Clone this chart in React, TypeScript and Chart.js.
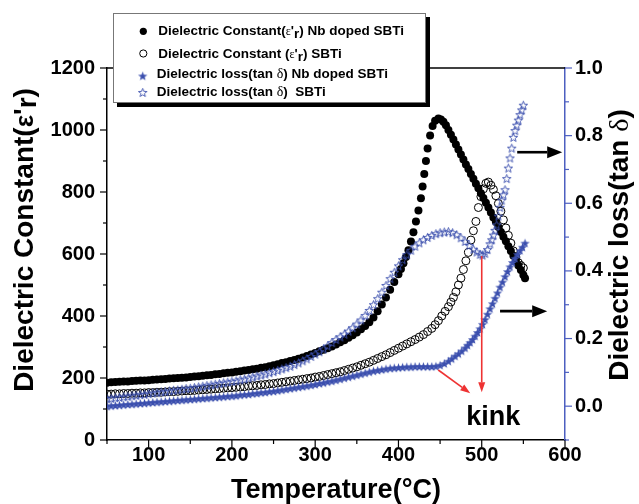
import React, { useEffect, useRef } from 'react';
import { Chart, registerables } from 'chart.js';

Chart.register(...registerables);

// ---- data: [temperature °C, value] ----
const tempTicks = [100, 200, 300, 400, 500, 600];
const dielectricTicks = [0, 200, 400, 600, 800, 1000, 1200];
const lossTicks = [0, 0.2, 0.4, 0.6, 0.8, 1.0];

// Dielectric constant, Nb doped SBTi (left axis)
const dcNb: [number, number][] = [
  [50,185],[55,186],[60,187],[65,188],[70,189],[75,189],[80,190],[85,191],[90,192],[95,192],
  [100,193],[105,194],[110,195],[115,196],[120,197],[125,198],[130,199],[135,200],[140,201],[145,202],
  [150,203],[155,205],[160,206],[165,207],[170,209],[175,210],[180,212],[185,213],[190,215],[195,217],
  [200,218],[205,220],[210,222],[215,224],[220,226],[225,228],[230,230],[235,233],[240,235],[245,238],
  [250,241],[255,244],[260,248],[265,251],[270,255],[275,258],[280,262],[285,266],[290,271],[295,276],
  [300,281],[305,286],[310,291],[315,296],[320,302],[325,308],[330,315],[335,322],[340,330],[345,338],
  [350,347],[355,357],[360,368],[365,380],[370,395],[375,415],[380,437],[385,460],[390,485],[395,510],
  [400,535],[403,552],[406,570],[409,590],[412,612],[415,640],[418,670],[421,705],[424,740],[427,780],
  [429,818],[431,858],[433,900],[435,940],[438,982],[441,1013],[444,1030],[448,1037],[451,1034],[454,1027],
  [457,1015],[460,1000],[463,985],[466,969],[469,953],[472,937],[475,921],[478,905],[481,889],[484,874],
  [487,858],[490,843],[493,827],[496,812],[499,796],[502,781],[505,765],[508,750],[511,734],[514,718],
  [517,703],[520,687],[523,671],[526,656],[529,641],[532,625],[535,610],[538,594],[541,579],[544,563],
  [547,548],[550,532],[552,522],
];

// Dielectric constant, SBTi (left axis)
const dcSBTi: [number, number][] = [
  [50,148],[55,148],[60,149],[65,149],[70,150],[75,150],[80,151],[85,151],[90,152],[95,152],
  [100,153],[105,153],[110,154],[115,154],[120,155],[125,156],[130,156],[135,157],[140,158],[145,159],
  [150,159],[155,160],[160,161],[165,162],[170,163],[175,164],[180,165],[185,166],[190,167],[195,168],
  [200,169],[205,170],[210,171],[215,172],[220,174],[225,175],[230,176],[235,178],[240,179],[245,181],
  [250,182],[255,184],[260,186],[265,188],[270,190],[275,192],[280,194],[285,196],[290,198],[295,200],
  [300,203],[305,205],[310,208],[315,211],[320,214],[325,217],[330,220],[335,224],[340,228],[345,232],
  [350,236],[355,241],[360,246],[365,251],[370,257],[375,263],[380,269],[385,275],[390,282],[395,289],
  [400,296],[405,303],[410,310],[415,317],[420,324],[425,332],[430,340],[435,350],[440,360],[444,372],
  [448,385],[452,400],[456,415],[460,430],[463,445],[466,460],[469,478],[472,500],[475,522],[478,550],
  [481,578],[484,605],[487,645],[490,675],[493,705],[496,750],[499,785],[502,810],[505,828],[508,832],
  [511,822],[514,808],[517,788],[520,763],[523,738],[526,710],[529,684],[532,660],[535,635],[538,610],
  [541,590],[544,572],[547,563],[550,555],
];

// Dielectric loss, Nb doped SBTi (right axis)
const lossNb: [number, number][] = [
  [50,0.000],[55,0.001],[60,0.002],[65,0.003],[70,0.004],[75,0.005],[80,0.006],[85,0.007],[90,0.008],[95,0.009],
  [100,0.010],[105,0.011],[110,0.012],[115,0.013],[120,0.014],[125,0.015],[130,0.016],[135,0.017],[140,0.018],[145,0.019],
  [150,0.020],[155,0.021],[160,0.022],[165,0.023],[170,0.024],[175,0.025],[180,0.026],[185,0.027],[190,0.028],[195,0.029],
  [200,0.030],[205,0.031],[210,0.033],[215,0.034],[220,0.035],[225,0.037],[230,0.038],[235,0.040],[240,0.041],[245,0.043],
  [250,0.044],[255,0.046],[260,0.048],[265,0.050],[270,0.052],[275,0.054],[280,0.056],[285,0.058],[290,0.060],[295,0.062],
  [300,0.064],[305,0.067],[310,0.069],[315,0.072],[320,0.074],[325,0.077],[330,0.080],[335,0.083],[340,0.086],[345,0.089],
  [350,0.092],[355,0.095],[360,0.098],[365,0.101],[370,0.104],[375,0.106],[380,0.108],[385,0.110],[390,0.112],[395,0.113],
  [400,0.114],[405,0.115],[410,0.116],[415,0.116],[420,0.117],[425,0.117],[430,0.117],[435,0.117],[440,0.117],[445,0.118],
  [450,0.121],[455,0.126],[460,0.133],[464,0.140],[468,0.148],[472,0.155],[476,0.163],[480,0.172],[483,0.180],[486,0.188],
  [489,0.197],[492,0.207],[495,0.218],[498,0.229],[501,0.242],[504,0.256],[507,0.272],[510,0.288],[513,0.303],[516,0.319],
  [519,0.335],[522,0.352],[525,0.367],[528,0.383],[531,0.398],[534,0.412],[537,0.425],[540,0.437],[543,0.449],[546,0.460],
  [549,0.470],[552,0.482],
];

// Dielectric loss, SBTi (right axis)
const lossSBTi: [number, number][] = [
  [50,0.022],[55,0.023],[60,0.025],[65,0.026],[70,0.028],[75,0.029],[80,0.031],[85,0.032],[90,0.034],[95,0.035],
  [100,0.037],[105,0.039],[110,0.040],[115,0.042],[120,0.043],[125,0.045],[130,0.047],[135,0.048],[140,0.050],[145,0.052],
  [150,0.053],[155,0.055],[160,0.057],[165,0.059],[170,0.061],[175,0.063],[180,0.065],[185,0.067],[190,0.069],[195,0.071],
  [200,0.073],[205,0.075],[210,0.078],[215,0.080],[220,0.083],[225,0.086],[230,0.089],[235,0.092],[240,0.095],[245,0.099],
  [250,0.102],[255,0.106],[260,0.110],[265,0.114],[270,0.118],[275,0.123],[280,0.128],[285,0.134],[290,0.140],[295,0.147],
  [300,0.154],[305,0.161],[310,0.169],[315,0.178],[320,0.188],[325,0.197],[330,0.205],[335,0.213],[340,0.222],[345,0.232],
  [350,0.243],[355,0.255],[360,0.268],[365,0.283],[370,0.300],[375,0.318],[380,0.337],[385,0.357],[390,0.377],[395,0.396],
  [400,0.415],[405,0.433],[410,0.448],[415,0.461],[420,0.473],[425,0.483],[430,0.492],[435,0.499],[440,0.505],[445,0.510],
  [450,0.513],[455,0.515],[460,0.516],[465,0.513],[470,0.507],[475,0.498],[480,0.487],[485,0.475],[490,0.464],[494,0.456],
  [498,0.449],[501,0.447],[504,0.452],[507,0.463],[510,0.480],[512,0.492],[514,0.506],[516,0.520],[518,0.536],[520,0.562],
  [522,0.588],[524,0.609],[526,0.625],[528,0.640],[530,0.673],[532,0.704],[534,0.734],[536,0.763],[538,0.795],[540,0.815],
  [542,0.831],[544,0.846],[546,0.862],[548,0.876],[550,0.890],
];

const legendLabels = [
  'Dielectric Constant(ε\'r) Nb doped SBTi',
  'Dielectric Constant (ε\'r) SBTi',
  'Dielectric loss(tan δ) Nb doped SBTi',
  'Dielectric loss(tan δ)  SBTi',
];

const BLUE = '#3b4fae';
const AXIS_BLUE = '#4d5fc0';
const RED = '#ee3333';
const SANS = '"Liberation Sans", Arial, sans-serif';
const SERIF = '"Liberation Serif", "Times New Roman", serif';

function makeStar(filled: boolean): HTMLCanvasElement {
  const s = 11;
  const c = document.createElement('canvas');
  c.width = s;
  c.height = s;
  const ctx = c.getContext('2d')!;
  const cx = s / 2, cy = s / 2 + 0.4;
  const R = filled ? 4.9 : 4.5, r = filled ? 2.0 : 1.9;
  ctx.beginPath();
  for (let i = 0; i < 10; i++) {
    const ang = -Math.PI / 2 + (i * Math.PI) / 5;
    const rad = i % 2 === 0 ? R : r;
    const x = cx + rad * Math.cos(ang), y = cy + rad * Math.sin(ang);
    if (i === 0) ctx.moveTo(x, y); else ctx.lineTo(x, y);
  }
  ctx.closePath();
  if (filled) {
    ctx.fillStyle = BLUE;
    ctx.fill();
  } else {
    ctx.strokeStyle = BLUE;
    ctx.lineWidth = 0.9;
    ctx.stroke();
  }
  return c;
}

type Run = { t: string; f: string; dy?: number };
function drawRuns(ctx: CanvasRenderingContext2D, runs: Run[], x: number, y: number, align: 'left' | 'center') {
  let w = 0;
  for (const r of runs) { ctx.font = r.f; w += ctx.measureText(r.t).width; }
  let cx = align === 'center' ? x - w / 2 : x;
  for (const r of runs) {
    ctx.font = r.f;
    ctx.fillText(r.t, cx, y + (r.dy || 0));
    cx += ctx.measureText(r.t).width;
  }
}

function line(ctx: CanvasRenderingContext2D, x1: number, y1: number, x2: number, y2: number, color: string, lw: number) {
  ctx.strokeStyle = color;
  ctx.lineWidth = lw;
  ctx.beginPath();
  ctx.moveTo(x1, y1);
  ctx.lineTo(x2, y2);
  ctx.stroke();
}

function arrow(ctx: CanvasRenderingContext2D, x1: number, y1: number, x2: number, y2: number, color: string, lw: number, hl: number, hw: number) {
  const ang = Math.atan2(y2 - y1, x2 - x1);
  const bx = x2 - hl * Math.cos(ang), by = y2 - hl * Math.sin(ang);
  line(ctx, x1, y1, bx, by, color, lw);
  ctx.fillStyle = color;
  ctx.beginPath();
  ctx.moveTo(x2, y2);
  ctx.lineTo(bx + hw * Math.sin(ang), by - hw * Math.cos(ang));
  ctx.lineTo(bx - hw * Math.sin(ang), by + hw * Math.cos(ang));
  ctx.closePath();
  ctx.fill();
}

function legendRuns(i: number): Run[] {
  const B = `bold 13.5px ${SANS}`;
  const G = `12px ${SERIF}`;
  const D = `14px ${SERIF}`;
  const lab = legendLabels[i];
  if (i < 2) {
    const [pre, post] = lab.split("ε'r");
    return [
      { t: pre, f: B },
      { t: 'ε', f: G },
      { t: "'", f: B },
      { t: 'r', f: B, dy: 3 },
      { t: post, f: B },
    ];
  }
  const [pre, post] = lab.split('δ');
  return [{ t: pre, f: B }, { t: 'δ', f: D }, { t: post, f: B }];
}

export default function App() {
  const ref = useRef<HTMLCanvasElement>(null);

  useEffect(() => {
    const starFilled = makeStar(true);
    const starHollow = makeStar(false);

    const deco = {
      id: 'deco',
      afterDraw(chart: any) {
        const { ctx, chartArea: a, scales } = chart;
        const sx = scales.x, sy = scales.y, sy1 = scales.y1;
        ctx.save();
        // top frame
        line(ctx, a.left, a.top, a.right, a.top, '#000', 1.5);
        // ticks
        for (let i = 0; i <= 12; i++) {
          const py = sy.getPixelForValue(i * 100);
          const len = i % 2 === 0 ? 7 : 4;
          line(ctx, a.left - len, py, a.left, py, '#000', 1.2);
        }
        for (let i = 1; i <= 12; i++) {
          const px = sx.getPixelForValue(i * 50);
          const len = i % 2 === 0 ? 7 : 4;
          line(ctx, px, a.bottom, px, a.bottom + len, '#000', 1.2);
        }
        for (let i = -1; i <= 10; i++) {
          const py = sy1.getPixelForValue(i / 10);
          const len = i % 2 === 0 ? 7 : 4;
          line(ctx, a.right, py, a.right + len, py, AXIS_BLUE, 1.2);
        }

        ctx.fillStyle = '#000';
        ctx.textBaseline = 'alphabetic';
        // axis titles
        drawRuns(ctx, [{ t: 'Temperature(°C)', f: `bold 27px ${SANS}` }], (a.left + a.right) / 2, 498, 'center');
        ctx.save();
        ctx.translate(33, 240);
        ctx.rotate(-Math.PI / 2);
        drawRuns(ctx, [
          { t: 'Dielectric Constant(', f: `bold 28px ${SANS}` },
          { t: 'ε', f: `bold 26px ${SANS}` },
          { t: "'", f: `bold 28px ${SANS}` },
          { t: 'r', f: `bold 28px ${SANS}`, dy: 3 },
          { t: ')', f: `bold 28px ${SANS}` },
        ], 0, 0, 'center');
        ctx.restore();
        ctx.save();
        ctx.translate(628, 245);
        ctx.rotate(-Math.PI / 2);
        drawRuns(ctx, [
          { t: 'Dielectric loss(tan ', f: `bold 28px ${SANS}` },
          { t: 'δ', f: `28px ${SERIF}` },
          { t: ')', f: `bold 28px ${SANS}` },
        ], 0, 0, 'center');
        ctx.restore();

        // legend box
        ctx.fillStyle = '#000';
        ctx.fillRect(117, 102.5, 313, 4.5);
        ctx.fillRect(425.5, 17, 4.5, 90);
        ctx.fillStyle = '#fff';
        ctx.fillRect(113, 13, 312.5, 89.5);
        ctx.strokeStyle = '#777';
        ctx.lineWidth = 1;
        ctx.strokeRect(113.5, 13.5, 312, 89);
        // legend symbols
        ctx.fillStyle = '#000';
        ctx.beginPath();
        ctx.arc(143.3, 31.3, 3.6, 0, Math.PI * 2);
        ctx.fill();
        ctx.strokeStyle = '#000';
        ctx.lineWidth = 1;
        ctx.beginPath();
        ctx.arc(143.3, 53.5, 3.6, 0, Math.PI * 2);
        ctx.stroke();
        ctx.drawImage(starFilled, 142.7 - 5.5, 76 - 5.5);
        ctx.drawImage(starHollow, 142.7 - 5.5, 92.5 - 5.5);
        const lx = [158.3, 158.3, 156.7, 156.7];
        const ly = [35, 57.5, 78, 96];
        ctx.fillStyle = '#000';
        for (let i = 0; i < 4; i++) drawRuns(ctx, legendRuns(i), lx[i], ly[i], 'left');

        // arrows pointing to right axis
        arrow(ctx, sx.getPixelForValue(542.6), sy1.getPixelForValue(0.751), sx.getPixelForValue(596.6), sy1.getPixelForValue(0.751), '#000', 2.6, 15, 6);
        arrow(ctx, sx.getPixelForValue(522), sy1.getPixelForValue(0.281), sx.getPixelForValue(578.6), sy1.getPixelForValue(0.281), '#000', 2.6, 15, 6);
        // kink arrows
        arrow(ctx, sx.getPixelForValue(500), sy1.getPixelForValue(0.444), sx.getPixelForValue(500), sy1.getPixelForValue(0.041), RED, 1.6, 10, 3.5);
        arrow(ctx, sx.getPixelForValue(447.8), sy1.getPixelForValue(0.107), sx.getPixelForValue(486.2), sy1.getPixelForValue(0.038), RED, 1.6, 10, 3.5);
        ctx.fillStyle = '#000';
        drawRuns(ctx, [{ t: 'kink', f: `bold 27px ${SANS}` }], sx.getPixelForValue(513.8), sy1.getPixelForValue(-0.056), 'center');
        ctx.restore();
      },
    };

    const tickFont = { family: SANS, size: 20, weight: 'bold' as const };
    const toXY = (d: [number, number][]) => d.map(([x, y]) => ({ x, y }));

    const chart = new Chart(ref.current!, {
      type: 'scatter',
      data: {
        datasets: [
          {
            label: legendLabels[0],
            data: toXY(dcNb),
            yAxisID: 'y',
            pointStyle: 'circle',
            pointRadius: 4,
            backgroundColor: '#000',
            borderColor: '#000',
            borderWidth: 0,
            order: 4,
          },
          {
            label: legendLabels[1],
            data: toXY(dcSBTi),
            yAxisID: 'y',
            pointStyle: 'circle',
            pointRadius: 4,
            backgroundColor: 'rgba(0,0,0,0)',
            borderColor: '#000',
            borderWidth: 1,
            order: 3,
          },
          {
            label: legendLabels[2],
            data: toXY(lossNb),
            yAxisID: 'y1',
            pointStyle: starFilled as any,
            pointRadius: 5,
            order: 2,
          },
          {
            label: legendLabels[3],
            data: toXY(lossSBTi),
            yAxisID: 'y1',
            pointStyle: starHollow as any,
            pointRadius: 5,
            order: 1,
          },
        ],
      },
      options: {
        animation: false,
        responsive: false,
        events: [],
        layout: { padding: { top: 68, left: 0, right: 0, bottom: 0 } },
        plugins: { legend: { display: false }, tooltip: { enabled: false } },
        scales: {
          x: {
            type: 'linear',
            position: 'bottom',
            min: 50,
            max: 600,
            grid: { display: false, drawTicks: false },
            border: { display: true, color: '#000', width: 1.5 },
            ticks: { font: tickFont, color: '#000', padding: 3, maxRotation: 0, callback: (v: any) => String(v) },
            afterBuildTicks: (s: any) => { s.ticks = tempTicks.map((v) => ({ value: v })); },
            afterFit: (s: any) => { s.height = 64; },
          },
          y: {
            type: 'linear',
            position: 'left',
            min: 0,
            max: 1200,
            grid: { display: false, drawTicks: false },
            border: { display: true, color: '#000', width: 1.5 },
            ticks: { font: tickFont, color: '#000', padding: 12, callback: (v: any) => String(v) },
            afterBuildTicks: (s: any) => { s.ticks = dielectricTicks.map((v) => ({ value: v })); },
            afterFit: (s: any) => { s.width = 107; },
          },
          y1: {
            type: 'linear',
            position: 'right',
            min: -0.1,
            max: 1.0,
            grid: { display: false, drawTicks: false },
            border: { display: true, color: AXIS_BLUE, width: 1.5 },
            ticks: { font: tickFont, color: '#000', padding: 10, callback: (v: any) => Number(v).toFixed(1) },
            afterBuildTicks: (s: any) => { s.ticks = lossTicks.map((v) => ({ value: v })); },
            afterFit: (s: any) => { s.width = 74; },
          },
        },
      } as any,
      plugins: [deco],
    });
    return () => chart.destroy();
  }, []);

  return (
    <div style={{ position: 'fixed', left: 0, top: 0, width: 639, height: 504, background: '#fff' }}>
      <canvas ref={ref} width={639} height={504} style={{ display: 'block' }} />
    </div>
  );
}
